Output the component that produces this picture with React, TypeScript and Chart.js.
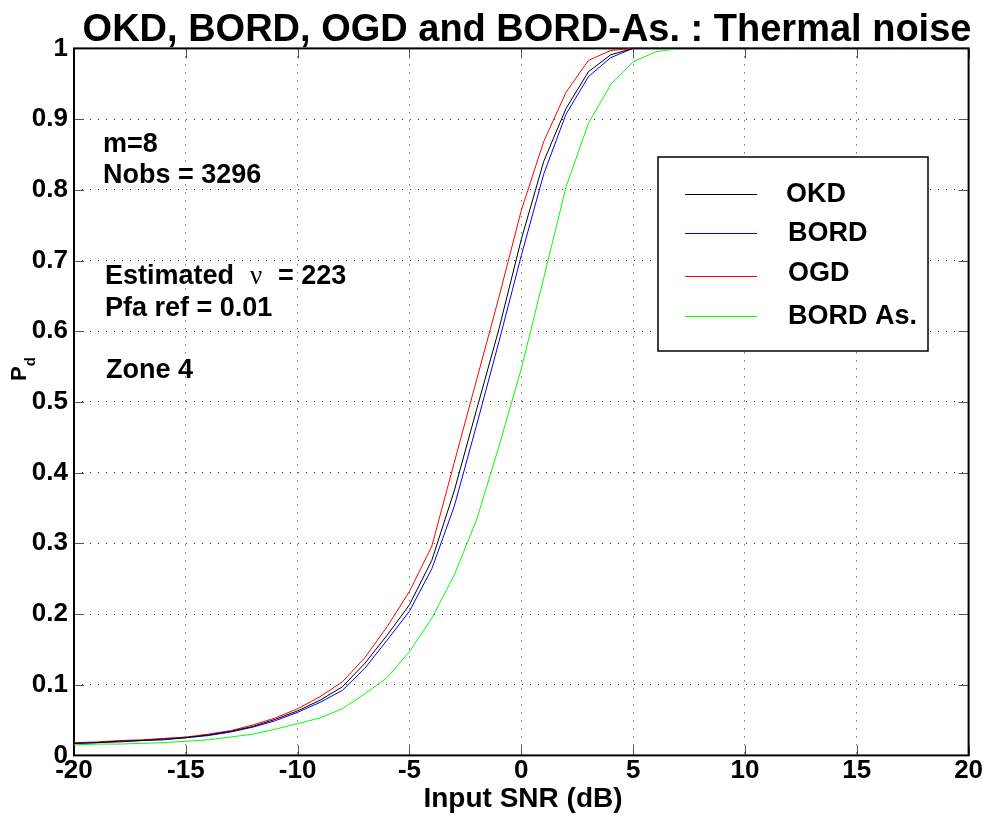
import React, { useEffect, useRef } from "react";
import { Chart, registerables } from "chart.js";

Chart.register(...registerables);

// ---- data ----
const snr = [-20, -19, -18, -17, -16, -15, -14, -13, -12, -11, -10, -9, -8, -7, -6, -5, -4, -3, -2, -1, 0, 1, 2, 3, 4, 5, 6, 7, 8, 9, 10, 11, 12, 13, 14, 15, 16, 17, 18, 19, 20];
const okd = [0.017, 0.018, 0.02, 0.021, 0.023, 0.025, 0.029, 0.034, 0.041, 0.051, 0.063, 0.078, 0.097, 0.13, 0.17, 0.213, 0.276, 0.374, 0.489, 0.603, 0.73, 0.84, 0.915, 0.967, 0.991, 1, 1, 1, 1, 1, 1, 1, 1, 1, 1, 1, 1, 1, 1, 1, 1];
const bord = [0.017, 0.018, 0.019, 0.021, 0.022, 0.025, 0.028, 0.033, 0.04, 0.049, 0.061, 0.075, 0.092, 0.123, 0.163, 0.204, 0.264, 0.352, 0.467, 0.585, 0.707, 0.822, 0.907, 0.96, 0.987, 1, 1, 1, 1, 1, 1, 1, 1, 1, 1, 1, 1, 1, 1, 1, 1];
const ogd = [0.018, 0.019, 0.021, 0.022, 0.024, 0.026, 0.03, 0.035, 0.043, 0.053, 0.066, 0.083, 0.104, 0.138, 0.182, 0.232, 0.296, 0.414, 0.531, 0.648, 0.771, 0.868, 0.938, 0.983, 0.997, 1, 1, 1, 1, 1, 1, 1, 1, 1, 1, 1, 1, 1, 1, 1, 1];
const bordAs = [0.015, 0.016, 0.016, 0.017, 0.018, 0.02, 0.022, 0.026, 0.03, 0.037, 0.045, 0.053, 0.066, 0.087, 0.11, 0.147, 0.194, 0.255, 0.333, 0.437, 0.547, 0.675, 0.804, 0.894, 0.949, 0.981, 0.995, 1, 1, 1, 1, 1, 1, 1, 1, 1, 1, 1, 1, 1, 1];

const seriesLabels = ["OKD", "BORD", "OGD", "BORD As."];
const seriesColors = ["#000000", "#0000ff", "#ff0000", "#00ff00"];
const seriesValues = [okd, bord, ogd, bordAs];

const titleText = "OKD, BORD, OGD and BORD-As. : Thermal noise";
const xTitle = "Input SNR (dB)";
const notes = ["m=8", "Nobs = 3296", "Pfa ref = 0.01", "Zone 4"];

const W = 993;
const H = 816;
const SANS = '"Liberation Sans", Arial, Helvetica, sans-serif';

const overlay = {
  id: "overlay",
  beforeDatasetsDraw(chart: any) {
    const ctx = chart.ctx;
    const a = chart.chartArea;
    const xs = chart.scales.x;
    const ys = chart.scales.y;
    ctx.save();
    // ticks (inside)
    ctx.strokeStyle = "#555";
    ctx.lineWidth = 1;
    ctx.beginPath();
    xs.ticks.forEach((t: any) => {
      const px = Math.round(xs.getPixelForValue(t.value)) + 0.5;
      ctx.moveTo(px, a.bottom);
      ctx.lineTo(px, a.bottom - 10);
      ctx.moveTo(px, a.top);
      ctx.lineTo(px, a.top + 10);
    });
    ys.ticks.forEach((t: any) => {
      const py = Math.round(ys.getPixelForValue(t.value)) + 0.5;
      ctx.moveTo(a.left, py);
      ctx.lineTo(a.left + 10, py);
      ctx.moveTo(a.right, py);
      ctx.lineTo(a.right - 10, py);
    });
    ctx.stroke();
    // frame
    ctx.strokeStyle = "#000";
    ctx.lineWidth = 2;
    ctx.strokeRect(a.left, a.top, a.right - a.left, a.bottom - a.top);
    ctx.restore();
  },
  afterDraw(chart: any) {
    const ctx = chart.ctx;
    ctx.save();
    ctx.fillStyle = "#000";
    ctx.textBaseline = "alphabetic";
    // title
    ctx.font = `bold 38px ${SANS}`;
    ctx.textAlign = "center";
    ctx.fillText(titleText, 527, 41, 892);
    // x title
    ctx.font = `bold 28px ${SANS}`;
    ctx.fillText(xTitle, 523, 807);
    // y title P_d
    ctx.save();
    ctx.translate(26, 381);
    ctx.rotate(-Math.PI / 2);
    ctx.textAlign = "left";
    ctx.font = `bold 22px ${SANS}`;
    ctx.fillText("P", 0, 0);
    const pw = ctx.measureText("P").width;
    ctx.font = `bold 15px ${SANS}`;
    ctx.fillText("d", pw, 9);
    ctx.restore();
    // annotations
    ctx.textAlign = "left";
    ctx.font = `bold 27px ${SANS}`;
    ctx.fillText(notes[0], 103, 152);
    ctx.fillText(notes[1], 103, 183);
    ctx.fillText("Estimated", 105, 284);
    ctx.font = `27px "Liberation Serif", "DejaVu Serif", serif`;
    ctx.fillText("\u03bd", 250, 284);
    ctx.font = `bold 27px ${SANS}`;
    ctx.fillText("= 223", 278, 284);
    ctx.fillText(notes[2], 105, 316);
    ctx.fillText(notes[3], 106, 378);
    // legend
    const lx = 658, ly = 157, lw = 270, lh = 194;
    ctx.fillStyle = "#fff";
    ctx.fillRect(lx, ly, lw, lh);
    ctx.strokeStyle = "#000";
    ctx.lineWidth = 1.5;
    ctx.strokeRect(lx, ly, lw, lh);
    const lineY = [194.5, 233.5, 276.5, 316.5];
    const textY = [202, 241, 281, 324];
    const textX = [786, 788, 788, 788];
    chart.data.datasets.forEach((ds: any, i: number) => {
      ctx.strokeStyle = ds.borderColor;
      ctx.lineWidth = 1;
      ctx.beginPath();
      ctx.moveTo(685, lineY[i]);
      ctx.lineTo(757, lineY[i]);
      ctx.stroke();
      ctx.fillStyle = "#000";
      ctx.font = `bold 27px ${SANS}`;
      ctx.fillText(ds.label, textX[i], textY[i]);
    });
    ctx.restore();
  },
};

export default function App() {
  const ref = useRef<HTMLCanvasElement | null>(null);
  useEffect(() => {
    document.body.style.margin = "0";
    const canvas = ref.current!;
    const chart = new Chart(canvas, {
      type: "line",
      data: {
        datasets: seriesValues.map((vals, i) => ({
          label: seriesLabels[i],
          data: snr.map((x, j) => ({ x, y: vals[j] })),
          borderColor: seriesColors[i],
          backgroundColor: seriesColors[i],
          borderWidth: 1,
          pointRadius: 0,
          tension: 0,
          fill: false,
          clip: false as any,
        })),
      },
      options: {
        responsive: false,
        animation: false,
        devicePixelRatio: 1,
        layout: { padding: { top: 48.4, right: 24.4, left: 0, bottom: 0 } },
        plugins: { legend: { display: false }, title: { display: false }, tooltip: { enabled: false } },
        scales: {
          x: {
            type: "linear",
            min: -20,
            max: 20,
            afterFit: (s: any) => { s.height = H - 755.4; },
            ticks: {
              stepSize: 5,
              color: "#000",
              padding: 0,
              font: { family: SANS, size: 26, weight: "bold" },
              maxRotation: 0,
              callback: (v: any) => String(v),
            },
            grid: { color: "rgba(0,0,0,0.8)", lineWidth: 1, drawTicks: false },
            border: { display: false, dash: [1, 7] },
          },
          y: {
            min: 0,
            max: 1,
            afterFit: (s: any) => { s.width = 74; },
            ticks: {
              stepSize: 0.1,
              color: "#000",
              padding: 6,
              font: { family: SANS, size: 26, weight: "bold" },
              callback: (v: any) => String(Math.round(Number(v) * 10) / 10),
            },
            grid: { color: "rgba(0,0,0,0.8)", lineWidth: 1, drawTicks: false },
            border: { display: false, dash: [1, 7] },
          },
        },
      },
      plugins: [overlay],
    });
    return () => chart.destroy();
  }, []);
  return (
    <div style={{ position: "absolute", left: 0, top: 0, width: W, height: H, background: "#fff" }}>
      <canvas ref={ref} width={W} height={H} style={{ display: "block", width: W, height: H }} />
    </div>
  );
}
